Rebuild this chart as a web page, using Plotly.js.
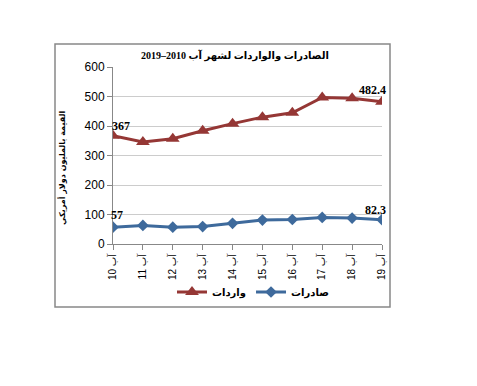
<!DOCTYPE html>
<html><head><meta charset="utf-8">
<script src="https://cdn.plot.ly/plotly-3.0.1.min.js"></script>
<style>html,body{margin:0;padding:0;background:#fff;}</style>
</head><body>
<div id="chart" style="width:477px;height:386px;"></div>
<script>
const categories = ["10 آب","11 آب","12 آب","13 آب","14 آب","15 آب","16 آب","17 آب","18 آب","19 آب"];
const imports = [367, 346, 357, 384, 408, 430, 445, 497, 494, 482.4];
const exports = [57, 63, 57, 59, 70, 81, 83, 90, 88, 82.3];
const importsName = "واردات";
const exportsName = "صادرات";
const titleText = "2019–2010 الصادرات والواردات لشهر آب";
const yTitle = "القيمة بالمليون دولار أمريكي";
const yTicks = [0, 100, 200, 300, 400, 500, 600];

const red = "#953735", blue = "#3E6A9C";
const traces = [
  {x: categories, y: imports, name: importsName, type: "scatter", mode: "lines+markers",
   line: {color: red, width: 3}, marker: {symbol: "triangle-up", size: 12, color: red}},
  {x: categories, y: exports, name: exportsName, type: "scatter", mode: "lines+markers",
   line: {color: blue, width: 3}, marker: {symbol: "diamond", size: 9, color: blue}}
];
const lblFont = {family: "Liberation Serif, serif", size: 12, color: "#000", weight: "bold"};
function lbl(i, arr, xs, ys){
  return {x: categories[i], y: arr[i], xref: "x", yref: "y", text: "<b>" + arr[i] + "</b>",
          showarrow: false, font: lblFont, xshift: xs, yshift: ys};
}
const annotations = [
  lbl(0, imports, 8, 10), lbl(0, exports, 4, 12),
  lbl(9, imports, -10, 12), lbl(9, exports, -7, 10),
  {xref: "paper", yref: "paper", x: (62-113)/269, y: (244-168)/177, xanchor: "center", yanchor: "middle",
   text: "<b>" + yTitle + "</b>", textangle: -90, showarrow: false,
   font: {family: "DejaVu Sans, sans-serif", size: 8, color: "#000"}}
];
const layout = {
  width: 477, height: 386,
  margin: {l: 113, r: 95, t: 67, b: 142},
  paper_bgcolor: "#fff", plot_bgcolor: "#fff",
  showlegend: true,
  title: {text: "<b>" + titleText + "</b>", x: 235/477, xanchor: "center", y: 1 - 55/386, yanchor: "middle",
          font: {family: "Liberation Serif, DejaVu Sans, serif", size: 10, color: "#000"}},
  xaxis: {type: "category", range: [0, 9], showgrid: false, showline: true, linecolor: "#888", linewidth: 1,
          ticks: "outside", ticklen: 5, tickcolor: "#888", tickangle: -90,
          tickfont: {family: "Liberation Sans, DejaVu Sans, sans-serif", size: 10, color: "#000"}},
  yaxis: {range: [0, 600], tickvals: yTicks, showgrid: true, gridcolor: "#cccccc", gridwidth: 1,
          showline: true, linecolor: "#888", linewidth: 1, ticks: "outside", ticklen: 5, tickcolor: "#888",
          zeroline: false,
          tickfont: {family: "Liberation Sans, Arial, sans-serif", size: 12, color: "#000"}},
  legend: {orientation: "h", x: (172-113)/269, xanchor: "left", y: (244-292)/177, yanchor: "middle",
           font: {family: "DejaVu Sans, sans-serif", size: 10, color: "#000", weight: "bold"},
           itemwidth: 30, bgcolor: "rgba(0,0,0,0)"},
  annotations: annotations,
  shapes: [{type: "rect", xref: "paper", yref: "paper",
            x0: (55-113)/269, x1: (390-113)/269, y0: (244-307)/177, y1: (244-44)/177,
            line: {color: "#888", width: 1.5}, fillcolor: "rgba(0,0,0,0)", layer: "below"}]
};
Plotly.newPlot("chart", traces, layout, {displayModeBar: false, staticPlot: true});
</script>
</body></html>
